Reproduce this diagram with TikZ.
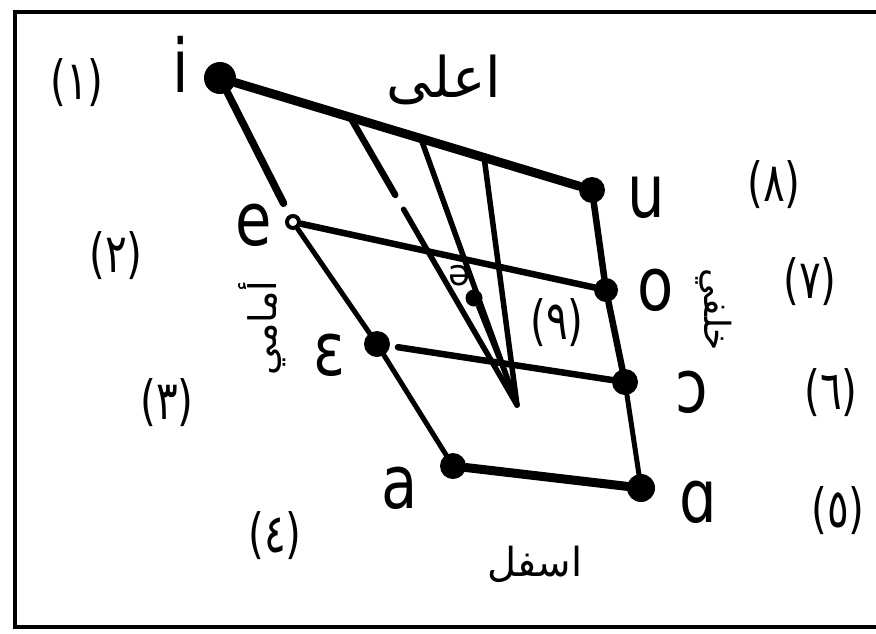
\documentclass[tikz,border=0pt]{standalone}
\usepackage{fontspec}
\usepackage{graphicx}
\usetikzlibrary{calc}
\setmainfont{DejaVu Sans}
\newfontfamily\arabicfont[Script=Arabic]{DejaVu Sans}
\TeXXeTstate=1
\newcommand\narrowtxt[2]{\scalebox{#1}[1]{#2}}
\tikzset{
  vdot/.style={circle,fill=black,inner sep=0pt,minimum size=#1},
  vlab/.style={font=\fontsize{74}{74}\selectfont,inner sep=0pt,anchor=base},
  numlab/.style={font=\fontsize{54}{54}\selectfont,inner sep=0pt},
  arlab/.style={font=\arabicfont\fontsize{#1}{#1}\selectfont,inner sep=0pt},
  heavy/.style={line width=9pt,line cap=round},
  medium/.style={line width=6.5pt,line cap=round},
  light/.style={line width=5pt,line cap=round},
  fan/.style={line width=5.5pt,line cap=round},
}
\begin{document}
\begin{tikzpicture}[x=1pt,y=-1pt]
\useasboundingbox (0,0) rectangle (876,633);
\fill[white] (0,0) rectangle (876,633);
% frame (right side is cut off in the reference)
\draw[line width=4pt] (880,12) -- (15,12) -- (15,627) -- (880,627);

% vowel points
\node[vdot=32pt] (i) at (220,78) {};
\node[vdot=26pt] (u) at (592,190) {};
\node[circle,draw=black,fill=white,line width=4pt,inner sep=0pt,minimum size=12pt] (e) at (293,222) {};
\node[vdot=24pt] (o) at (606,290) {};
\node[vdot=26pt] (E) at (377,344) {};
\node[vdot=26pt] (O) at (625,382) {};
\node[vdot=26pt] (a) at (453,466) {};
\node[vdot=28pt] (A) at (641,488) {};
\node[vdot=17pt] (schwa) at (474,298) {};
\coordinate (z) at (517,405);
\coordinate (p1) at ($(i)!0.35!(u)$);
\coordinate (p2) at ($(i)!0.54!(u)$);
\coordinate (p3) at ($(i)!0.71!(u)$);

% quadrilateral
\draw[heavy] (i) -- (u);
\draw[line width=7.5pt,line cap=round,shorten >=13pt] (i) -- (e);
\draw[light] (e) -- (E);
\draw[light] (E) -- (a);
\draw[heavy] (a) -- (A);
\draw[medium] (u) -- (o);
\draw[medium] (o) -- (O);
\draw[light] (O) -- (A);
\draw[medium] (e) -- (o);
\draw[medium,shorten <=8pt] (E) -- (O);

% fan of lines to the centre
\draw[fan,line width=6.5pt] (p1) -- ($(p1)!0.27!(z)$);
\draw[fan] ($(p1)!0.32!(z)$) -- (z);
\draw[fan] (p2) -- (z);
\draw[fan] (p3) -- (z);
\draw[line width=3pt] (schwa) -- (z);
\node[font=\fontsize{36}{36}\selectfont,inner sep=0pt] (schwalab) at (460,276) {ə};

% vowel labels
\node[vlab] (li) at (181,92) {\narrowtxt{0.8}{i}};
\node[vlab] (le) at (254,245) {\narrowtxt{0.8}{e}};
\node[vlab] (lE) at (329,375) {\narrowtxt{0.8}{ɛ}};
\node[vlab] (la) at (400,508) {\narrowtxt{0.8}{a}};
\node[vlab] (lA) at (698,522) {\narrowtxt{0.8}{ɑ}};
\node[vlab] (lO) at (692,412) {\narrowtxt{0.8}{ɔ}};
\node[vlab] (lo) at (656,310) {\narrowtxt{0.8}{o}};
\node[vlab] (lu) at (646,217) {\narrowtxt{0.8}{u}};

% numbers
\node[numlab] (n1) at (77,83) {\narrowtxt{0.75}{(١)}};
\node[numlab] (n2) at (116,256) {\narrowtxt{0.75}{(٢)}};
\node[numlab] (n3) at (167,403) {\narrowtxt{0.75}{(٣)}};
\node[numlab] (n4) at (275,536) {\narrowtxt{0.75}{(٤)}};
\node[numlab] (n5) at (838,511) {\narrowtxt{0.75}{(٥)}};
\node[numlab] (n6) at (831,393) {\narrowtxt{0.75}{(٦)}};
\node[numlab] (n7) at (810,282) {\narrowtxt{0.75}{(٧)}};
\node[numlab] (n8) at (774,185) {\narrowtxt{0.75}{(٨)}};
\node[numlab] (n9) at (557,323) {\narrowtxt{0.75}{(٩)}};

% arabic words
\node[arlab=56] (top) at (444,80) {\beginR اعلى\endR};
\node[arlab=40] (bottom) at (535,564) {\beginR اسفل\endR};
\node[arlab=38,rotate=90] (front) at (262,328) {\beginR أمامي\endR};
\node[arlab=36,rotate=-90] (back) at (714,310) {\beginR خلفي\endR};
\end{tikzpicture}
\end{document}
